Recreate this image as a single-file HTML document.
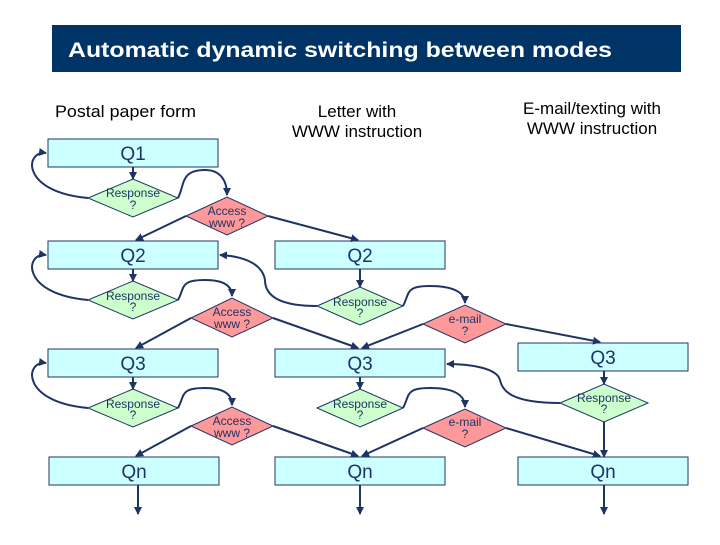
<!DOCTYPE html>
<html><head><style>body{margin:0;background:#fff}</style></head><body>
<svg width="720" height="540" xmlns="http://www.w3.org/2000/svg" font-family="Liberation Sans, sans-serif">
<defs><marker id="a" markerWidth="8" markerHeight="8" refX="7" refY="4" orient="auto" markerUnits="userSpaceOnUse"><path d="M0,0 L8,4 L0,8 z" fill="#1f3466"/></marker></defs>
<rect x="52" y="25" width="629" height="47" fill="#003366"/>
<text x="68" y="57" fill="#fff" font-size="21" font-weight="bold" textLength="544" lengthAdjust="spacingAndGlyphs">Automatic dynamic switching between modes</text>
<g font-size="17" fill="#000">
<text x="55" y="117" textLength="141" lengthAdjust="spacingAndGlyphs">Postal paper form</text>
<text x="357" y="117" text-anchor="middle">Letter with</text>
<text x="357" y="137" text-anchor="middle">WWW instruction</text>
<text x="592" y="114" text-anchor="middle">E-mail/texting  with</text>
<text x="592" y="134" text-anchor="middle">WWW instruction</text>
</g>
<g fill="#ccffff" stroke="#1f3466" stroke-width="1">
<rect x="48" y="139" width="170" height="28"/>
<rect x="48" y="241" width="170" height="28"/>
<rect x="275" y="241" width="170" height="28"/>
<rect x="48" y="349" width="170" height="28"/>
<rect x="275" y="349" width="170" height="28"/>
<rect x="518" y="343" width="170" height="28"/>
<rect x="49" y="457" width="170" height="28"/>
<rect x="275" y="457" width="170" height="28"/>
<rect x="518" y="457" width="170" height="28"/>
</g>
<g font-size="19" fill="#1f3466" text-anchor="middle">
<text x="133" y="160">Q1</text><text x="133" y="262">Q2</text><text x="360" y="262">Q2</text>
<text x="133" y="370">Q3</text><text x="360" y="370">Q3</text><text x="603" y="364">Q3</text>
<text x="134" y="478">Qn</text><text x="360" y="478">Qn</text><text x="603" y="478">Qn</text>
</g>
<g stroke="#1f3466" stroke-width="1">
<path d="M88,198 L133,179 L178,198 L133,217z" fill="#ccffcc"/>
<path d="M88,300 L133,281 L178,300 L133,319z" fill="#ccffcc"/>
<path d="M88,408 L133,389 L178,408 L133,427z" fill="#ccffcc"/>
<path d="M317,306 L360,287 L403,306 L360,325z" fill="#ccffcc"/>
<path d="M317,408 L360,389 L403,408 L360,427z" fill="#ccffcc"/>
<path d="M560,403 L604,384 L648,403 L604,422z" fill="#ccffcc"/>
<path d="M186,216 L227,197 L268,216 L227,235z" fill="#ff9999"/>
<path d="M191,318 L232,298 L273,318 L232,337z" fill="#ff9999"/>
<path d="M191,426 L232,407 L273,426 L232,445z" fill="#ff9999"/>
<path d="M423,324 L465,305 L506,324 L465,343z" fill="#ff9999"/>
<path d="M423,428 L465,409 L506,428 L465,447z" fill="#ff9999"/>
</g>
<g font-size="12" fill="#1f3466" text-anchor="middle">
<text x="133" y="197">Response</text><text x="133" y="209">?</text>
<text x="133" y="300">Response</text><text x="133" y="311">?</text>
<text x="133" y="408">Response</text><text x="133" y="419">?</text>
<text x="360" y="306">Response</text><text x="360" y="317">?</text>
<text x="360" y="408">Response</text><text x="360" y="419">?</text>
<text x="604" y="402">Response</text><text x="604" y="413">?</text>
<text x="227" y="215">Access</text><text x="227" y="227">www ?</text>
<text x="232" y="316">Access</text><text x="232" y="328">www ?</text>
<text x="232" y="425">Access</text><text x="232" y="437">www ?</text>
<text x="465" y="323">e-mail</text><text x="465" y="335">?</text>
<text x="465" y="426">e-mail</text><text x="465" y="438">?</text>
</g>
<g stroke="#1f3466" stroke-width="2" fill="none" marker-end="url(#a)">
<path d="M133,167 V179"/><path d="M133,269 V281"/><path d="M133,377 V389"/>
<path d="M360,269 V287"/><path d="M360,377 V389"/><path d="M604,371 V384"/>
<path d="M604,422 V457"/>
<path d="M138,485 V514"/><path d="M360,485 V514"/><path d="M604,485 V514"/>
<path d="M88,198 C20,192 25,150 46,153"/>
<path d="M88,300 C20,294 25,252 46,255"/>
<path d="M88,408 C20,402 25,360 46,363"/>
<path d="M178,198 C185,185 180,170 205,170 C220,170 227,180 227,195"/>
<path d="M178,300 C185,287 180,280 205,280 C222,280 232,285 232,296"/>
<path d="M178,408 C185,395 180,388 205,388 C222,388 232,393 232,405"/>
<path d="M403,306 C410,293 405,286 430,286 C452,286 465,292 465,303"/>
<path d="M403,408 C410,395 405,388 430,388 C452,388 465,394 465,407"/>
<path d="M186,216 L136,240"/><path d="M268,216 L358,240"/>
<path d="M191,318 L136,348"/><path d="M273,318 L358,348"/>
<path d="M191,426 L136,456"/><path d="M273,426 L358,456"/>
<path d="M423,324 L362,348"/><path d="M506,324 L600,342"/>
<path d="M423,428 L362,456"/><path d="M506,428 L600,456"/>
<path d="M317,306 C270,306 265,290 265,280 C262,262 240,256 220,255"/>
<path d="M560,403 C510,403 502,390 500,380 C497,368 470,364 447,364"/>
</g>
</svg>
</body></html>
